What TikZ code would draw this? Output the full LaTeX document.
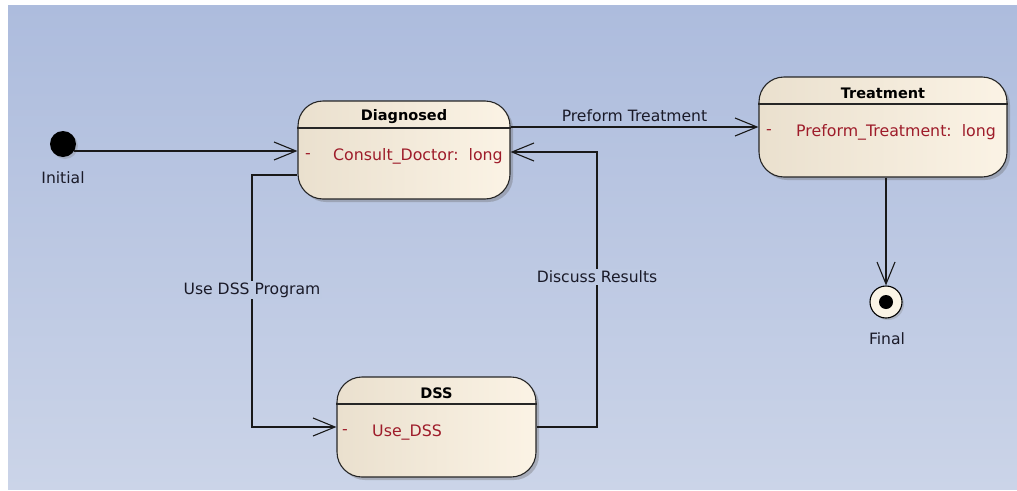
\documentclass[tikz,border=0pt]{standalone}
\usepackage{fontspec}
\setmainfont{DejaVu Sans}
\usetikzlibrary{arrows.meta,shadows,calc}

\definecolor{bgtop}{RGB}{173,188,221}
\definecolor{bgbot}{RGB}{203,212,232}
\definecolor{labelbg}{RGB}{190,202,227}
\definecolor{stL}{RGB}{234,224,206}
\definecolor{stR}{RGB}{251,243,229}
\definecolor{attrred}{RGB}{158,28,42}
\definecolor{labelink}{RGB}{26,26,40}
\definecolor{finalfill}{RGB}{250,244,230}

\tikzset{
  state/.style={draw=black!85, line width=1.1pt, rounded corners=25pt,
    left color=stL, right color=stR, inner sep=0pt,
    drop shadow={shadow xshift=3pt, shadow yshift=-3pt, opacity=.35, fill=black!60}},
  hdr/.style={draw=black!85, line width=1.1pt},
  stitle/.style={font=\fontsize{14.5}{17}\selectfont\bfseries, text=black, inner sep=0pt},
  sattr/.style={font=\fontsize{15.8}{18}\selectfont, text=attrred, inner sep=0pt},
  elabel/.style={font=\fontsize{15.6}{18}\selectfont, text=labelink, fill=labelbg, inner sep=2pt},
  plabel/.style={font=\fontsize{15.6}{18}\selectfont, text=labelink, inner sep=0pt},
  trans/.style={draw=black!90, line width=1.1pt,
    -{Straight Barb[length=22pt, width=18pt, line width=1.1pt]}},
}

\begin{document}
\begin{tikzpicture}[x=1pt, y=-1pt]
  \useasboundingbox (0,0) rectangle (1017,490);
  % canvas
  \shade[top color=bgtop, bottom color=bgbot] (8,5) rectangle (1017,489);

  % initial pseudo-state
  \node[circle, fill=black, minimum size=26pt, inner sep=0pt,
        drop shadow={shadow xshift=2pt, shadow yshift=-2pt, opacity=.3}] (init) at (63,144) {};
  \node[plabel] (initL) at (63,178) {Initial};

  % final pseudo-state
  \node[circle, draw=black, line width=1.1pt, fill=finalfill, minimum size=32pt, inner sep=0pt,
        drop shadow={shadow xshift=2pt, shadow yshift=-2pt, opacity=.3}] (final) at (886,302) {};
  \node[circle, fill=black, minimum size=14pt, inner sep=0pt] (finalDot) at (final) {};
  \node[plabel] (finalL) at (887,339) {Final};

  % Diagnosed
  \node[state, minimum width=212pt, minimum height=98pt] (diag) at (404,150) {};
  \draw[hdr] (diag.west |- 0,128) -- (diag.east |- 0,128);
  \node[stitle] (diagT) at (404,117) {Diagnosed};
  \node[sattr] (diagD) at (308,156) {-};
  \node[sattr, anchor=west] (diagA) at (333,156) {Consult\_Doctor:\ \ long};

  % Treatment
  \node[state, minimum width=248pt, minimum height=100pt] (treat) at (883,127) {};
  \draw[hdr] (treat.west |- 0,104) -- (treat.east |- 0,104);
  \node[stitle] (treatT) at (883,93) {Treatment};
  \node[sattr] (treatD) at (769,132) {-};
  \node[sattr, anchor=west] (treatA) at (796,132) {Preform\_Treatment:\ \ long};

  % DSS
  \node[state, minimum width=199pt, minimum height=100pt] (dss) at (436.5,427) {};
  \draw[hdr] (dss.west |- 0,404) -- (dss.east |- 0,404);
  \node[stitle] (dssT) at (436.5,393) {DSS};
  \node[sattr] (dssD) at (345,432) {-};
  \node[sattr, anchor=west] (dssA) at (372,432) {Use\_DSS};

  % bend points of the orthogonal transitions
  \coordinate (useBend) at (252,175);
  \coordinate (discBend) at (597,152);

  % transitions
  \draw[trans] (init.-32) -- (init.-32 -| diag.west);
  \draw[trans] (treat.west -| diag.east) -- (treat.west)
    node[plabel, pos=0.5, above=5pt] (lblTreat) {Preform Treatment};
  \draw[trans] (useBend -| diag.west) -- (useBend) |- (dss.west);
  \draw[trans] (dss.east) -| (discBend) -- (discBend -| diag.east);
  \draw[trans] (treat.south -| final) -- (final.north);

  % transition labels sitting on the vertical segments
  \node[elabel] (lblUse) at (252,290) {Use DSS Program};
  \node[elabel] (lblDisc) at (597,277) {Discuss Results};
\end{tikzpicture}
\end{document}
